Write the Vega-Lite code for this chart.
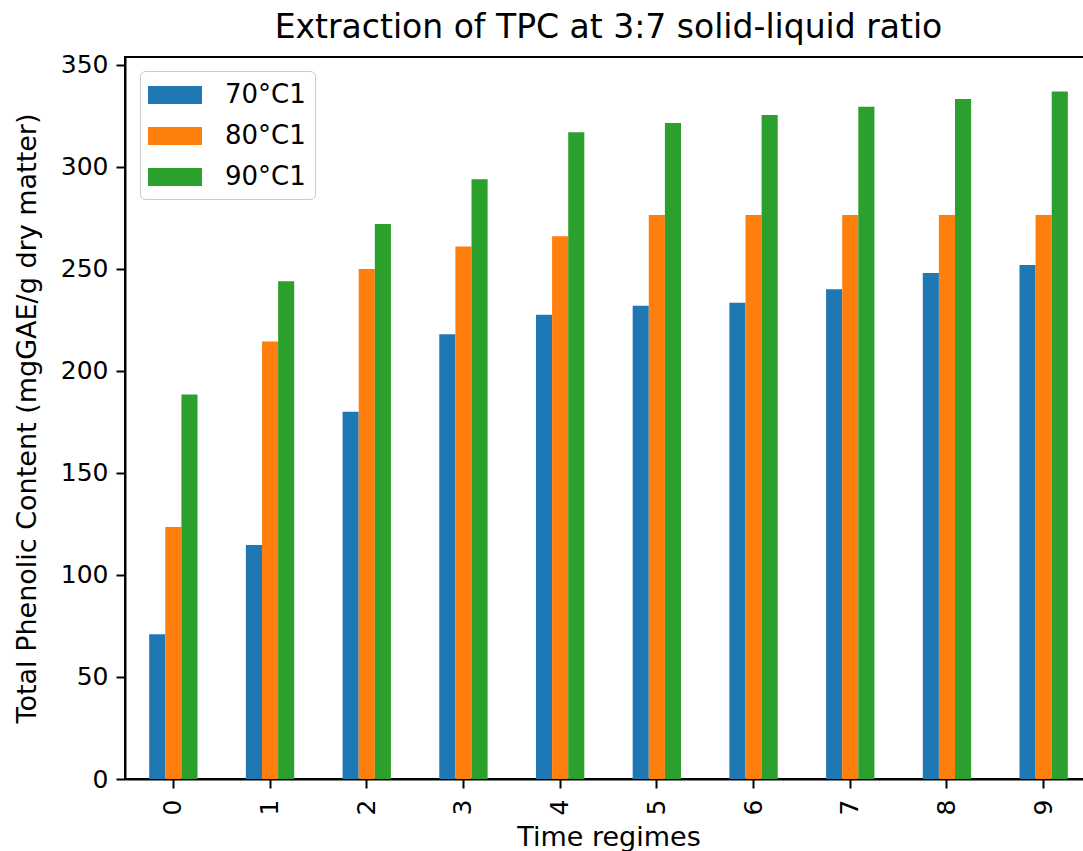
{
  "$schema": "https://vega.github.io/schema/vega-lite/v6.json",
  "autosize": {"type": "none"},
  "padding": {"left": 125, "top": 57, "right": 0, "bottom": 72},
  "width": 967,
  "height": 722,
  "background": "white",
  "title": {
    "text": "Extraction of TPC at 3:7 solid-liquid ratio",
    "font": "DejaVu Sans",
    "fontSize": 33,
    "fontWeight": "normal",
    "color": "#000000",
    "anchor": "middle",
    "offset": 8
  },
  "config": {
    "view": {"stroke": "#000000", "strokeWidth": 2},
    "axis": {
      "labelFont": "DejaVu Sans",
      "titleFont": "DejaVu Sans",
      "labelColor": "#000000",
      "titleColor": "#000000",
      "titleFontWeight": "normal",
      "domainColor": "#000000",
      "domainWidth": 2,
      "tickColor": "#000000",
      "tickWidth": 2,
      "tickSize": 9,
      "grid": false
    }
  },
  "data": {
    "values": [
      {"regime": 0, "series": "70°C1", "value": 71},
      {"regime": 0, "series": "80°C1", "value": 123.5},
      {"regime": 0, "series": "90°C1", "value": 188.5},
      {"regime": 1, "series": "70°C1", "value": 114.7},
      {"regime": 1, "series": "80°C1", "value": 214.5},
      {"regime": 1, "series": "90°C1", "value": 244},
      {"regime": 2, "series": "70°C1", "value": 180},
      {"regime": 2, "series": "80°C1", "value": 250},
      {"regime": 2, "series": "90°C1", "value": 272},
      {"regime": 3, "series": "70°C1", "value": 218},
      {"regime": 3, "series": "80°C1", "value": 261},
      {"regime": 3, "series": "90°C1", "value": 294},
      {"regime": 4, "series": "70°C1", "value": 227.5},
      {"regime": 4, "series": "80°C1", "value": 266},
      {"regime": 4, "series": "90°C1", "value": 317},
      {"regime": 5, "series": "70°C1", "value": 232},
      {"regime": 5, "series": "80°C1", "value": 276.5},
      {"regime": 5, "series": "90°C1", "value": 321.5},
      {"regime": 6, "series": "70°C1", "value": 233.5},
      {"regime": 6, "series": "80°C1", "value": 276.5},
      {"regime": 6, "series": "90°C1", "value": 325.5},
      {"regime": 7, "series": "70°C1", "value": 240},
      {"regime": 7, "series": "80°C1", "value": 276.5},
      {"regime": 7, "series": "90°C1", "value": 329.5},
      {"regime": 8, "series": "70°C1", "value": 248},
      {"regime": 8, "series": "80°C1", "value": 276.5},
      {"regime": 8, "series": "90°C1", "value": 333.3},
      {"regime": 9, "series": "70°C1", "value": 252},
      {"regime": 9, "series": "80°C1", "value": 276.5},
      {"regime": 9, "series": "90°C1", "value": 337}
    ]
  },
  "mark": {"type": "bar"},
  "encoding": {
    "x": {
      "field": "regime",
      "type": "ordinal",
      "scale": {"paddingInner": 0.5, "paddingOuter": 0.25},
      "axis": {
        "title": "Time regimes",
        "titleFontSize": 27,
        "titlePadding": 10,
        "labelFontSize": 25,
        "labelAngle": -90,
        "labelPadding": 11
      }
    },
    "xOffset": {"field": "series", "type": "nominal"},
    "y": {
      "field": "value",
      "type": "quantitative",
      "scale": {"domain": [0, 353.9], "nice": false, "zero": true},
      "axis": {
        "title": "Total Phenolic Content (mgGAE/g dry matter)",
        "titleFontSize": 27,
        "titlePadding": 19,
        "labelFontSize": 25,
        "labelPadding": 8,
        "values": [0, 50, 100, 150, 200, 250, 300, 350]
      }
    },
    "color": {
      "field": "series",
      "type": "nominal",
      "scale": {"range": ["#1f77b4", "#ff7f0e", "#2ca02c"]},
      "legend": {
        "title": null,
        "orient": "none",
        "legendX": 15,
        "legendY": 14,
        "fillColor": "rgba(255,255,255,0.8)",
        "strokeColor": "#cccccc",
        "cornerRadius": 5,
        "padding": 9,
        "symbolType": "M-1.8,-0.6H1.8V0.6H-1.8Z",
        "symbolSize": 900,
        "symbolOffset": 11,
        "symbolStrokeWidth": 0,
        "symbolOpacity": 1,
        "labelFont": "DejaVu Sans",
        "labelFontSize": 26,
        "labelColor": "#000000",
        "labelOffset": 35,
        "rowPadding": 13
      }
    }
  }
}
